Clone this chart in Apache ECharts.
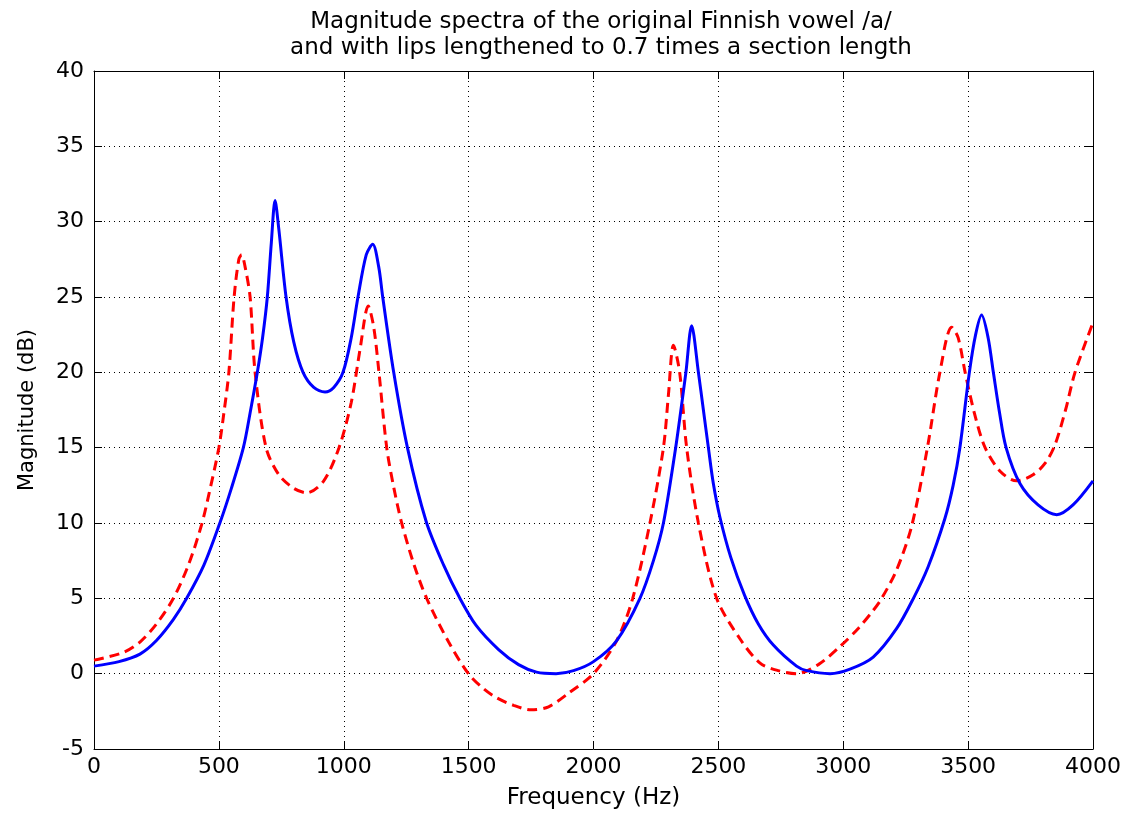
<!DOCTYPE html>
<html>
<head>
<meta charset="utf-8">
<script src="https://cdn.jsdelivr.net/npm/echarts@6/dist/echarts.min.js"></script>
<style>html,body{margin:0;padding:0;background:#fff;}#c{width:1137px;height:816px;}</style>
</head>
<body>
<div id="c"></div>
<script>
const titleLines = ['Magnitude spectra of the original Finnish vowel /a/', 'and with lips lengthened to 0.7 times a section length'];
const xTicks = [0, 500, 1000, 1500, 2000, 2500, 3000, 3500, 4000];
const yTicks = [-5, 0, 5, 10, 15, 20, 25, 30, 35, 40];

// Original vowel /a/ (blue solid)
const freqOrig = [0,100,184,250,318,371,440,504,550,598,625,654,675,694,710,725,740,769,800,837,880,925,960,997,1030,1057,1090,1116,1140,1156,1200,1255,1330,1400,1465,1530,1620,1700,1772,1850,1920,2000,2093,2186,2240,2280,2329,2350,2370,2393,2420,2440,2460,2480,2506,2550,2605,2660,2720,2813,2854,2947,3027,3120,3214,3281,3340,3407,3440,3467,3505,3530,3554,3580,3601,3625,3652,3708,3780,3855,3920,4000];
const magOrig  = [0.5,0.8,1.3,2.2,3.6,5.0,7.2,10.0,12.3,15.0,17.3,20.0,22.3,25.0,28.6,31.4,29.5,25.0,22.0,20.0,19.0,18.7,19.0,20.0,22.3,25.0,27.8,28.5,27.0,25.0,20.0,15.0,10.1,7.2,5.0,3.2,1.6,0.6,0.1,0.0,0.2,0.8,2.2,5.0,7.5,10.0,15.0,17.5,20.0,23.1,20.0,17.5,15.0,12.6,10.4,7.7,5.2,3.3,1.9,0.5,0.2,0.0,0.3,1.1,3.0,5.0,7.1,10.3,12.5,15.0,20.0,22.5,23.8,22.3,20.0,17.4,15.0,12.6,11.2,10.55,11.2,12.8];

// Lips lengthened (red dashed)
const freqLips = [0,117,184,250,318,380,431,460,500,520,540,561,580,591,605,625,645,689,740,800,852,920,981,1030,1065,1098,1120,1141,1172,1201,1232,1280,1332,1420,1499,1560,1612,1680,1750,1820,1900,2000,2093,2157,2226,2280,2300,2320,2345,2373,2420,2493,2587,2667,2740,2813,2900,2987,3060,3120,3154,3214,3274,3337,3387,3434,3460,3488,3525,3568,3630,3694,3760,3810,3848,3890,3928,4000];
const magLips  = [0.9,1.4,2.1,3.3,5.0,7.3,9.9,11.9,15.0,17.3,20.0,25.0,27.5,27.8,27.0,25.0,20.0,15.0,13.2,12.3,12.0,12.8,15.0,18.0,21.5,24.4,23.0,20.0,15.0,12.3,10.0,7.3,5.0,2.1,0.0,-1.0,-1.6,-2.1,-2.4,-2.2,-1.3,0.0,2.2,5.0,10.0,15.0,18.5,21.8,20.0,15.0,10.0,5.0,2.3,0.7,0.2,0.0,0.6,1.8,3.0,4.2,5.0,6.9,9.8,15.0,20.0,23.0,22.3,20.0,17.3,15.0,13.4,12.8,13.2,14.0,15.2,17.5,20.0,23.3];

const FONT = "'DejaVu Sans', 'Liberation Sans', Arial, sans-serif";
const pair = (xs, ys) => xs.map((x, i) => [x, ys[i]]);

const chart = echarts.init(document.getElementById('c'), null, {renderer: 'canvas'});
const axisCommon = {
  axisLine: {show: true, onZero: false, lineStyle: {color: '#000', width: 1}},
  axisTick: {show: true, inside: true, length: 8, lineStyle: {color: '#000', width: 1}},
};
chart.setOption({
  animation: false,
  backgroundColor: '#fff',
  title: {
    text: titleLines.join('\n'),
    left: 596, top: 4, textAlign: 'center',
    textStyle: {fontFamily: FONT, fontSize: 23, fontWeight: 'normal', color: '#000', lineHeight: 26}
  },
  grid: {left: 94, right: 44, top: 71, bottom: 67, show: false},
  xAxis: [{
    type: 'value', min: 0, max: 4000, interval: 500, position: 'bottom',
    name: 'Frequency (Hz)', nameLocation: 'middle', nameGap: 38,
    nameTextStyle: {fontFamily: FONT, fontSize: 23, color: '#000'},
    ...axisCommon,
    axisLabel: {fontFamily: FONT, fontSize: 22, color: '#000', margin: 7, formatter: v => xTicks.includes(v) ? String(v) : ''},
    splitLine: {show: true, lineStyle: {color: '#000', type: [1, 4], width: 1}}
  }, {
    type: 'value', min: 0, max: 4000, interval: 500, position: 'top',
    ...axisCommon, axisLabel: {show: false}, splitLine: {show: false}
  }],
  yAxis: [{
    type: 'value', min: -5, max: 40, interval: 5, position: 'left',
    name: 'Magnitude (dB)', nameLocation: 'middle', nameGap: 56, nameRotate: 90,
    nameTextStyle: {fontFamily: FONT, fontSize: 21, color: '#000'},
    ...axisCommon,
    axisLabel: {fontFamily: FONT, fontSize: 22, color: '#000', margin: 10, formatter: v => yTicks.includes(v) ? String(v) : ''},
    splitLine: {show: true, lineStyle: {color: '#000', type: [1, 4], width: 1}}
  }, {
    type: 'value', min: -5, max: 40, interval: 5, position: 'right',
    ...axisCommon, axisLabel: {show: false}, splitLine: {show: false}
  }],
  series: [{
    name: 'Original', type: 'line', xAxisIndex: 0, yAxisIndex: 0,
    data: pair(freqOrig, magOrig), showSymbol: false, smooth: 0.3,
    lineStyle: {color: '#0000ff', width: 3}, z: 3
  }, {
    name: 'Lips lengthened', type: 'line', xAxisIndex: 0, yAxisIndex: 0,
    data: pair(freqLips, magLips), showSymbol: false, smooth: 0.3,
    lineStyle: {color: '#ff0000', width: 3, type: [10, 6]}, z: 2
  }]
});
</script>
</body>
</html>
